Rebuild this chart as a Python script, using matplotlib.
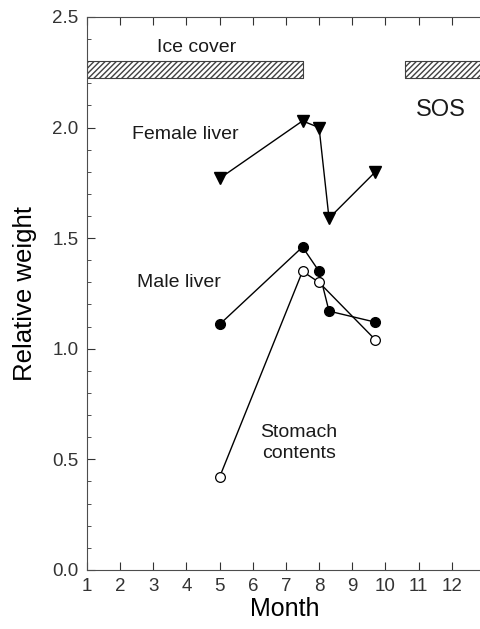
import matplotlib
matplotlib.use("Agg")
import matplotlib.pyplot as plt
from matplotlib.ticker import MultipleLocator, FormatStrFormatter

plt.rcParams["font.family"] = ["Liberation Sans", "DejaVu Sans"]

# ── Data ───────────────────────────────────────────────────────────────────
female_month = [5.0, 7.5, 8.0, 8.3, 9.7]
female_weight = [1.77, 2.03, 2.00, 1.59, 1.80]

male_month = [5.0, 7.5, 8.0, 8.3, 9.7]
male_weight = [1.11, 1.46, 1.35, 1.17, 1.12]

stomach_month = [5.0, 7.5, 8.0, 9.7]
stomach_weight = [0.42, 1.35, 1.30, 1.04]

ice_start, ice_end = 1.0, 7.5
sos_start, sos_end = 10.6, 13.0
bar_low, bar_high = 2.225, 2.30

month_ticks = list(range(1, 13))

fig = plt.figure(figsize=(4.81, 6.29), dpi=100)
ax = fig.add_axes([0.181, 0.094, 0.82, 0.879])

# ice cover / SOS bars
for start, end in [(ice_start, ice_end), (sos_start, sos_end)]:
    ax.fill_between([start, end], bar_low, bar_high, facecolor="white",
                    edgecolor="0.25", hatch="//////", linewidth=0.8)

ax.plot(female_month, female_weight, color="black", lw=1.0,
        marker="v", ms=8, mfc="black", mec="black")
ax.plot(male_month, male_weight, color="black", lw=1.0,
        marker="o", ms=7, mfc="black", mec="black")
ax.plot(stomach_month, stomach_weight, color="black", lw=1.0,
        marker="o", ms=7, mfc="white", mec="black", mew=0.9)

txt = dict(fontsize=14, color="0.1")
ax.text(4.3, 2.36, "Ice cover", ha="center", va="center", **txt)
ax.text(11.66, 2.08, "SOS", ha="center", va="center", fontsize=17, color="0.1")
ax.text(2.35, 1.97, "Female liver", ha="left", va="center", **txt)
ax.text(2.5, 1.30, "Male liver", ha="left", va="center", **txt)
ax.text(7.4, 0.575, "Stomach\ncontents", ha="center", va="center",
        linespacing=1.3, **txt)

ax.set_xlim(1, 12.9)
ax.set_ylim(0, 2.5)
ax.set_xticks(month_ticks)
ax.yaxis.set_major_locator(MultipleLocator(0.5))
ax.yaxis.set_minor_locator(MultipleLocator(0.1))
ax.yaxis.set_major_formatter(FormatStrFormatter("%.1f"))
ax.tick_params(axis="both", which="both", direction="in", top=True,
               right=False, labelsize=13.5, colors="0.2")
ax.tick_params(axis="both", which="major", length=6, pad=6)
ax.tick_params(axis="both", which="minor", length=3)
ax.spines["right"].set_visible(False)
for s in ["left", "bottom", "top"]:
    ax.spines[s].set_color("0.3")

ax.set_xlabel("Month", fontsize=18, labelpad=1)
ax.set_ylabel("Relative weight", fontsize=18.5, labelpad=11)

fig.savefig("out.png", dpi=100)
